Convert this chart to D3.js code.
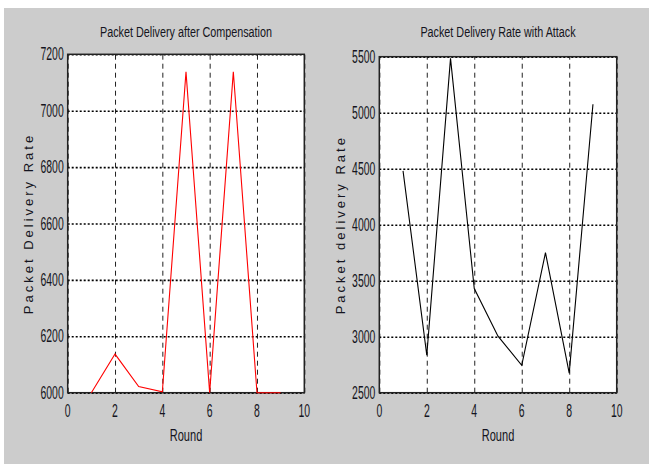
<!DOCTYPE html>
<html>
<head>
<meta charset="utf-8">
<script src="https://cdn.jsdelivr.net/npm/d3@7"></script>
<style>
  body { margin: 0; background: #fff; }
  text { font-family: "Liberation Sans", Arial, sans-serif; fill: #141420; }
</style>
</head>
<body>
<div id="chart"></div>
<script>
(function () {

    var rounds = [1, 2, 3, 4, 5, 6, 7, 8, 9];
    var compensated = [6000, 6137, 6022, 6003, 7138, 6000, 7138, 6000, 6000];
    var attacked = [4480, 2835, 5485, 3430, 3005, 2745, 3750, 2675, 5075];
    var x_ticks = [0, 2, 4, 6, 8, 10];
    var left_y_ticks = [6000, 6200, 6400, 6600, 6800, 7000, 7200];
    var right_y_ticks = [2500, 3000, 3500, 4000, 4500, 5000, 5500];

    var squeeze = 0.58;

    var svg = d3.select("#chart").append("svg")
        .attr("width", 649)
        .attr("height", 464);

    svg.append("rect")
        .attr("x", 4).attr("y", 8)
        .attr("width", 645).attr("height", 456)
        .attr("fill", "#cccccc");

    function panel(p) {
        var x = d3.scaleLinear().domain([0, 10]).range([p.left, p.right]);
        var y = d3.scaleLinear().domain(p.domain).range([p.bottom, p.top]);
        var g = svg.append("g");

        g.append("rect")
            .attr("x", p.left).attr("y", p.top)
            .attr("width", p.right - p.left).attr("height", p.bottom - p.top)
            .attr("fill", "#ffffff");

        // vertical grid, dashed
        var gx = g.append("g")
            .attr("transform", "translate(0," + p.bottom + ")")
            .call(d3.axisBottom(x).tickValues(x_ticks).tickSize(-(p.bottom - p.top)).tickFormat(""));
        gx.select(".domain").remove();
        gx.selectAll("line")
            .attr("stroke", "#222")
            .attr("stroke-dasharray", "5,4");

        // horizontal grid, dotted
        var gy = g.append("g")
            .attr("transform", "translate(" + p.left + ",0)")
            .call(d3.axisLeft(y).tickValues(p.ticks).tickSize(-(p.right - p.left)).tickFormat(""));
        gy.select(".domain").remove();
        gy.selectAll("line")
            .attr("stroke", "#000")
            .attr("stroke-width", 1.6)
            .attr("stroke-dasharray", "2,2");

        g.append("rect")
            .attr("x", p.left).attr("y", p.top)
            .attr("width", p.right - p.left).attr("height", p.bottom - p.top)
            .attr("fill", "none")
            .attr("stroke", "#222")
            .attr("stroke-width", 1.5);

        var line = d3.line()
            .x(function (d, i) { return x(rounds[i]); })
            .y(function (d) { return y(d); });

        g.append("path")
            .datum(p.values)
            .attr("d", line)
            .attr("fill", "none")
            .attr("stroke", p.color)
            .attr("stroke-width", 1.1);

        // tick labels
        g.selectAll(".xl")
            .data(x_ticks)
            .enter().append("text")
            .attr("transform", function (d) {
                return "translate(" + x(d) + "," + (p.bottom + 24) + ") scale(" + squeeze + ",1)";
            })
            .attr("text-anchor", "middle")
            .style("font-size", "18px")
            .text(function (d) { return d; });

        g.selectAll(".yl")
            .data(p.ticks)
            .enter().append("text")
            .attr("transform", function (d) {
                return "translate(" + (p.left - 4) + "," + y(d) + ") scale(" + squeeze + ",1)";
            })
            .attr("text-anchor", "end")
            .attr("dy", "0.34em")
            .style("font-size", "18px")
            .text(function (d) { return d; });

        g.append("text")
            .attr("transform", "translate(" + ((p.left + p.right) / 2) + ",37) scale(0.72,1)")
            .attr("text-anchor", "middle")
            .style("font-size", "15px")
            .text(p.title);

        g.append("text")
            .attr("transform", "translate(" + ((p.left + p.right) / 2) + ",441) scale(0.65,1)")
            .attr("text-anchor", "middle")
            .style("font-size", "17px")
            .text("Round");

        g.append("text")
            .attr("transform", "translate(" + p.label_x + "," + ((p.top + p.bottom) / 2) + ") rotate(-90)")
            .attr("text-anchor", "middle")
            .style("font-size", "13px")
            .style("letter-spacing", "3px")
            .text(p.label);
    }

    panel({
        left: 67.7, right: 304.3, top: 54.3, bottom: 392.7,
        domain: [6000, 7200], ticks: left_y_ticks, values: compensated,
        color: "#ff0000",
        title: "Packet Delivery after Compensation",
        label: "Packet Delivery Rate", label_x: 33
    });

    panel({
        left: 379.3, right: 616.7, top: 56.7, bottom: 392.7,
        domain: [2500, 5500], ticks: right_y_ticks, values: attacked,
        color: "#000000",
        title: "Packet Delivery Rate with Attack",
        label: "Packet delivery Rate", label_x: 345
    });
})();
</script>
</body>
</html>
